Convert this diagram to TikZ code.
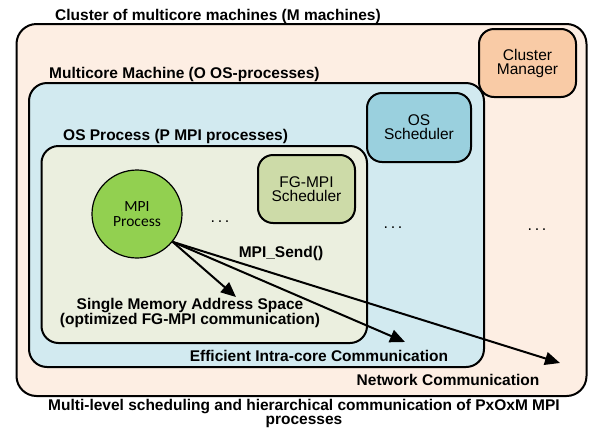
\documentclass[tikz,border=0pt]{standalone}
\usepackage{fontspec}
\setmainfont{Liberation Sans}
\newfontfamily\carlito{Carlito}
\usetikzlibrary{arrows.meta,shapes.geometric}

\definecolor{clusterfill}{HTML}{FDEEE3}
\definecolor{managerfill}{HTML}{F9CBA6}
\definecolor{machinefill}{HTML}{D2EAF0}
\definecolor{osschedfill}{HTML}{9AD0DE}
\definecolor{processfill}{HTML}{EBEFDF}
\definecolor{fgschedfill}{HTML}{CDDBA8}
\definecolor{mpifill}{HTML}{92D050}

\tikzset{
  container/.style={draw=black, line width=2pt, rounded corners=#1, inner sep=0pt},
  container/.default=18pt,
  schedbox/.style={draw=black, line width=2pt, rounded corners=15pt, inner sep=0pt,
    align=center, font=\fontsize{15.5}{14}\selectfont},
  boldlabel/.style={font=\fontsize{15.5}{13.5}\selectfont\bfseries, inner sep=0pt, align=center},
  captionlabel/.style={font=\fontsize{15.5}{14}\selectfont\bfseries, inner sep=0pt, align=center},
  dotsl/.style={font=\fontsize{16}{16}\selectfont, inner sep=0pt},
  sendarrow/.style={line width=2pt, -{Triangle[length=15pt,width=13pt]}}
}

\begin{document}
\begin{tikzpicture}[x=1pt,y=-1pt]
  \useasboundingbox[fill=white] (0,0) rectangle (592,429);

  % nested containers
  \node[container=20pt, fill=clusterfill, minimum width=570pt, minimum height=372pt] (cluster) at (301.5,210) {};
  \node[container=18pt, fill=machinefill, minimum width=455pt, minimum height=284pt] (machine) at (256.5,225) {};
  \node[container=17pt, fill=processfill, minimum width=325.5pt, minimum height=197pt] (osproc) at (204.25,244.5) {};

  % schedulers
  \node[schedbox, fill=managerfill, minimum width=97pt, minimum height=68pt] (manager) at (527.5,63) {Cluster\\Manager};
  \node[schedbox, fill=osschedfill, minimum width=104pt, minimum height=69pt] (ossched) at (419,127.5) {OS\\Scheduler};
  \node[schedbox, fill=fgschedfill, minimum width=97pt, minimum height=68pt] (fgsched) at (306.5,189) {FG-MPI\\Scheduler};

  % MPI process
  \node[ellipse, draw=black, line width=1.2pt, fill=mpifill, minimum width=90pt, minimum height=88pt,
        inner sep=0pt, align=center, font=\carlito\fontsize{15.5}{15.5}\selectfont] (mpi) at (137,214) {MPI\\Process};

  % container titles
  \node[boldlabel, anchor=base west] (clustertitle) at (55,20) {Cluster of multicore machines (M machines)};
  \node[boldlabel, anchor=base west] (machinetitle) at (49,78) {Multicore Machine (O OS-processes)};
  \node[boldlabel, anchor=base west] (proctitle) at (63,140) {OS Process (P MPI processes)};

  % ellipses standing for further instances
  \node[dotsl] (dots1) at (220,222) {.\,.\,.};
  \node[dotsl] (dots2) at (393,228) {.\,.\,.};
  \node[dotsl] (dots3) at (537,230) {.\,.\,.};

  % communication arrows
  \coordinate (tipshared) at (236,297);
  \coordinate (tipcore) at (405,342);
  \coordinate (tipnet) at (560,363);
  \draw[sendarrow] (mpi.-38) -- (tipshared);
  \draw[sendarrow] (mpi.-38) -- (tipcore);
  \draw[sendarrow] (mpi.-38) -- (tipnet);

  % communication labels
  \node[boldlabel] (send) at (281,253) {MPI\_Send()};
  \node[boldlabel] (shared) at (190,313) {Single Memory Address Space\\(optimized FG-MPI communication)};
  \node[boldlabel] (intracore) at (319,356) {Efficient Intra-core Communication};
  \node[boldlabel] (network) at (448,380) {Network Communication};

  % caption
  \node[captionlabel] (caption) at (304,413) {Multi-level scheduling and hierarchical communication of PxOxM MPI\\processes};
\end{tikzpicture}
\end{document}
